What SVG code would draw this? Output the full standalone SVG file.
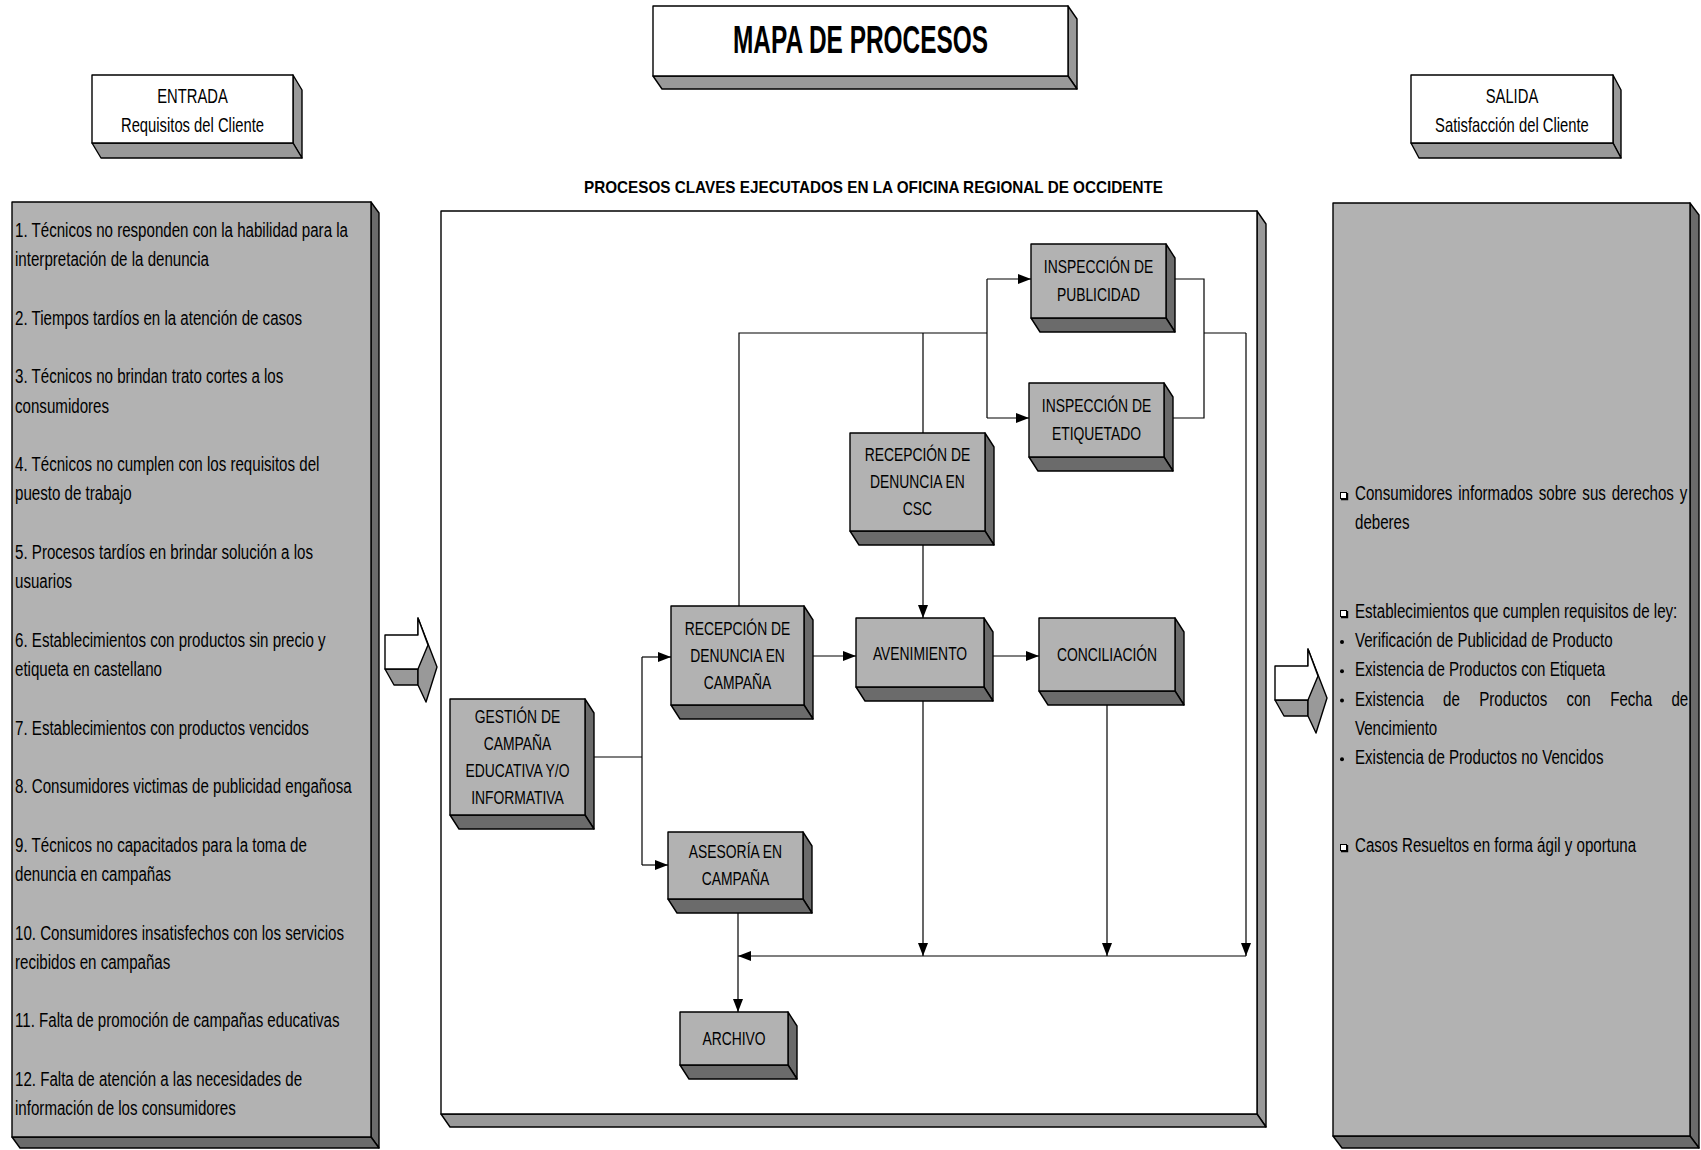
<svg xmlns="http://www.w3.org/2000/svg" width="1701" height="1150" viewBox="0 0 1701 1150">
<defs>
<style>
text { font-family: "Liberation Sans", Arial, sans-serif; fill: #000; }
.ttl { font-size: 38px; font-weight: bold; }
.sub { font-size: 17px; font-weight: bold; }
.hd { font-size: 20px; text-anchor: middle; }
.pt { font-size: 20px; }
.nt { font-size: 19px; text-anchor: middle; }
.face { stroke: #000; stroke-width: 1.4; stroke-linejoin: round; }
.white { fill: #fff; }
.lite { fill: #999; }
.pane { fill: #b2b2b2; }
.dark { fill: #6b6b6b; }
.edge { fill: none; stroke: #000; stroke-width: 1.2; }
.arr { fill: none; stroke: #000; stroke-width: 1.2; marker-end: url(#ah); }
</style>
<marker id="ah" markerUnits="userSpaceOnUse" markerWidth="14" markerHeight="10" refX="13" refY="5" orient="auto">
<path d="M0,0 L13,5 L0,10 z" fill="#000"/>
</marker>
</defs>

<!-- title block -->
<g id="title">
<polygon class="face lite" points="1068,6 1077,19 1077,89 1068,76"/>
<polygon class="face lite" points="653,76 1068,76 1077,89 662,89"/>
<rect class="face white" x="653" y="6" width="415" height="70"/>
<text class="ttl" x="733" y="53" textLength="255" lengthAdjust="spacingAndGlyphs">MAPA DE PROCESOS</text>
</g>

<!-- input header -->
<g id="entrada">
<polygon class="face lite" points="293,75 302,90 302,158 293,143"/>
<polygon class="face lite" points="92,143 293,143 302,158 101,158"/>
<rect class="face white" x="92" y="75" width="201" height="68"/>
<g transform="scale(0.74 1)">
<text class="hd" x="260.1" y="103">ENTRADA</text>
<text class="hd" x="260.1" y="132">Requisitos del Cliente</text>
</g>
</g>

<!-- output header -->
<g id="salida">
<polygon class="face lite" points="1613,75 1621,90 1621,158 1613,143"/>
<polygon class="face lite" points="1411,143 1613,143 1621,158 1419,158"/>
<rect class="face white" x="1411" y="75" width="202" height="68"/>
<g transform="scale(0.74 1)">
<text class="hd" x="2043.2" y="103">SALIDA</text>
<text class="hd" x="2043.2" y="132">Satisfacción del Cliente</text>
</g>
</g>

<!-- left panel: client requirements -->
<g id="requisitos">
<polygon class="face dark" points="371,202 379,213 379,1148 371,1137"/>
<polygon class="face dark" points="12,1137 371,1137 379,1148 20,1148"/>
<rect class="face pane" x="12" y="202" width="359" height="935"/>
<g transform="scale(0.755 1)">
<text class="pt" x="19.9" y="237">1. Técnicos no responden con la habilidad para la</text>
<text class="pt" x="19.9" y="266.3">interpretación de la denuncia</text>
<text class="pt" x="19.9" y="324.8">2. Tiempos tardíos en la atención de casos</text>
<text class="pt" x="19.9" y="383.4">3. Técnicos no brindan trato cortes a los</text>
<text class="pt" x="19.9" y="412.7">consumidores</text>
<text class="pt" x="19.9" y="471.2">4. Técnicos no cumplen con los requisitos del</text>
<text class="pt" x="19.9" y="500.5">puesto de trabajo</text>
<text class="pt" x="19.9" y="559.1">5. Procesos tardíos en brindar solución a los</text>
<text class="pt" x="19.9" y="588.4">usuarios</text>
<text class="pt" x="19.9" y="646.9">6. Establecimientos con productos sin precio y</text>
<text class="pt" x="19.9" y="676.2">etiqueta en castellano</text>
<text class="pt" x="19.9" y="734.7">7. Establecimientos con productos vencidos</text>
<text class="pt" x="19.9" y="793.2">8. Consumidores victimas de publicidad engañosa</text>
<text class="pt" x="19.9" y="851.8">9. Técnicos no capacitados para la toma de</text>
<text class="pt" x="19.9" y="881.1">denuncia en campañas</text>
<text class="pt" x="19.9" y="939.6">10. Consumidores insatisfechos con los servicios</text>
<text class="pt" x="19.9" y="968.9">recibidos en campañas</text>
<text class="pt" x="19.9" y="1027.4">11. Falta de promoción de campañas educativas</text>
<text class="pt" x="19.9" y="1086">12. Falta de atención a las necesidades de</text>
<text class="pt" x="19.9" y="1115.3">información de los consumidores</text>
</g>
</g>

<!-- block arrow into the process area -->
<g id="flecha-entrada">
<polygon class="face lite" points="385,669 418,669 418,685 394,685"/>
<polygon class="face lite" points="418,618 437,667 426,702 418,685"/>
<polygon class="face white" points="385,635 418,635 418,618 428,645 418,669 385,669"/>
</g>

<!-- central process frame -->
<g id="procesos">
<polygon class="face lite" points="1257,211 1266,224 1266,1127 1257,1114"/>
<polygon class="face lite" points="441,1114 1257,1114 1266,1127 450,1127"/>
<rect class="face white" x="441" y="211" width="816" height="903"/>
<text class="sub" x="584" y="193" textLength="579" lengthAdjust="spacingAndGlyphs">PROCESOS CLAVES EJECUTADOS EN LA OFICINA REGIONAL DE OCCIDENTE</text>
</g>

<!-- connectors -->
<g id="conectores">
<path class="edge" d="M594,757 H642 M642,657 V865"/>
<path class="arr" d="M642,657 H671"/>
<path class="arr" d="M642,865 H668"/>
<path class="arr" d="M813,656 H856"/>
<path class="arr" d="M993,656 H1039"/>
<path class="edge" d="M739,606 V333 H987 M987,279 V418 M923,333 V433"/>
<path class="arr" d="M987,279 H1031"/>
<path class="arr" d="M987,418 H1029"/>
<path class="edge" d="M1175,279 H1204 V418 H1173 M1204,333 H1246"/>
<path class="arr" d="M1246,333 V956"/>
<path class="arr" d="M923,545 V618"/>
<path class="arr" d="M923,701 V956"/>
<path class="arr" d="M1107,705 V956"/>
<path class="arr" d="M1246,956 H738"/>
<path class="arr" d="M738,913 V1012"/>
</g>

<g id="inspeccion-publicidad">
<polygon class="face dark" points="1166,244 1175,258 1175,332 1166,318"/>
<polygon class="face dark" points="1031,318 1166,318 1175,332 1040,332"/>
<rect class="face pane" x="1031" y="244" width="135" height="74"/>
<g transform="scale(0.73 1)">
<text class="nt" x="1504.8" y="273.5">INSPECCIÓN DE</text>
<text class="nt" x="1504.8" y="301.5">PUBLICIDAD</text>
</g>
</g>

<g id="inspeccion-etiquetado">
<polygon class="face dark" points="1164,383 1173,397 1173,471 1164,457"/>
<polygon class="face dark" points="1029,457 1164,457 1173,471 1038,471"/>
<rect class="face pane" x="1029" y="383" width="135" height="74"/>
<g transform="scale(0.73 1)">
<text class="nt" x="1502.1" y="412.5">INSPECCIÓN DE</text>
<text class="nt" x="1502.1" y="440.5">ETIQUETADO</text>
</g>
</g>

<g id="recepcion-csc">
<polygon class="face dark" points="985,433 994,447 994,545 985,531"/>
<polygon class="face dark" points="850,531 985,531 994,545 859,545"/>
<rect class="face pane" x="850" y="433" width="135" height="98"/>
<g transform="scale(0.73 1)">
<text class="nt" x="1256.8" y="461.5">RECEPCIÓN DE</text>
<text class="nt" x="1256.8" y="488.5">DENUNCIA EN</text>
<text class="nt" x="1256.8" y="515.5">CSC</text>
</g>
</g>

<g id="recepcion-campana">
<polygon class="face dark" points="804,606 813,620 813,719 804,705"/>
<polygon class="face dark" points="671,705 804,705 813,719 680,719"/>
<rect class="face pane" x="671" y="606" width="133" height="99"/>
<g transform="scale(0.73 1)">
<text class="nt" x="1010.3" y="635">RECEPCIÓN DE</text>
<text class="nt" x="1010.3" y="662">DENUNCIA EN</text>
<text class="nt" x="1010.3" y="689">CAMPAÑA</text>
</g>
</g>

<g id="gestion-campana">
<polygon class="face dark" points="585,699 594,713 594,829 585,815"/>
<polygon class="face dark" points="450,815 585,815 594,829 459,829"/>
<rect class="face pane" x="450" y="699" width="135" height="116"/>
<g transform="scale(0.73 1)">
<text class="nt" x="708.9" y="723">GESTIÓN DE</text>
<text class="nt" x="708.9" y="750">CAMPAÑA</text>
<text class="nt" x="708.9" y="777">EDUCATIVA Y/O</text>
<text class="nt" x="708.9" y="804">INFORMATIVA</text>
</g>
</g>

<g id="asesoria-campana">
<polygon class="face dark" points="803,832 812,846 812,913 803,899"/>
<polygon class="face dark" points="668,899 803,899 812,913 677,913"/>
<rect class="face pane" x="668" y="832" width="135" height="67"/>
<g transform="scale(0.73 1)">
<text class="nt" x="1007.5" y="858.5">ASESORÍA EN</text>
<text class="nt" x="1007.5" y="885.5">CAMPAÑA</text>
</g>
</g>

<g id="avenimiento">
<polygon class="face dark" points="984,618 993,632 993,701 984,687"/>
<polygon class="face dark" points="856,687 984,687 993,701 865,701"/>
<rect class="face pane" x="856" y="618" width="128" height="69"/>
<g transform="scale(0.73 1)">
<text class="nt" x="1260.3" y="660">AVENIMIENTO</text>
</g>
</g>

<g id="conciliacion">
<polygon class="face dark" points="1175,618 1184,632 1184,705 1175,691"/>
<polygon class="face dark" points="1039,691 1175,691 1184,705 1048,705"/>
<rect class="face pane" x="1039" y="618" width="136" height="73"/>
<g transform="scale(0.73 1)">
<text class="nt" x="1516.4" y="661">CONCILIACIÓN</text>
</g>
</g>

<g id="archivo">
<polygon class="face dark" points="788,1012 797,1026 797,1079 788,1065"/>
<polygon class="face dark" points="680,1065 788,1065 797,1079 689,1079"/>
<rect class="face pane" x="680" y="1012" width="108" height="53"/>
<g transform="scale(0.73 1)">
<text class="nt" x="1005.5" y="1045">ARCHIVO</text>
</g>
</g>

<!-- block arrow out of the process area -->
<g id="flecha-salida">
<polygon class="face lite" points="1275,700 1308,700 1308,716 1284,716"/>
<polygon class="face lite" points="1308,649 1327,698 1316,733 1308,716"/>
<polygon class="face white" points="1275,666 1308,666 1308,649 1318,676 1308,700 1275,700"/>
</g>

<!-- right panel: client satisfaction -->
<g id="satisfaccion">
<polygon class="face dark" points="1690,203 1699,215 1699,1148 1690,1136"/>
<polygon class="face dark" points="1333,1136 1690,1136 1699,1148 1342,1148"/>
<rect class="face pane" x="1333" y="203" width="357" height="933"/>
<g fill="#fff" stroke="#000" stroke-width="1">
<rect x="1340.5" y="492.5" width="6" height="6"/>
<rect x="1340.5" y="610.5" width="6" height="6"/>
<rect x="1340.5" y="844.5" width="6" height="6"/>
</g>
<g fill="none" stroke="#000" stroke-width="1.4">
<path d="M1341,499.5 H1347.5 V493"/>
<path d="M1341,617.5 H1347.5 V611"/>
<path d="M1341,851.5 H1347.5 V845"/>
</g>
<g fill="#000">
<circle cx="1342" cy="642" r="2"/>
<circle cx="1342" cy="671.3" r="2"/>
<circle cx="1342" cy="700.6" r="2"/>
<circle cx="1342" cy="759.2" r="2"/>
</g>
<g transform="scale(0.755 1)">
<text class="pt" x="1794.7" y="500" word-spacing="2.2">Consumidores informados sobre sus derechos y</text>
<text class="pt" x="1794.7" y="529.3">deberes</text>
<text class="pt" x="1794.7" y="617.9">Establecimientos que cumplen requisitos de ley:</text>
<text class="pt" x="1794.7" y="647.2">Verificación de Publicidad de Producto</text>
<text class="pt" x="1794.7" y="676.5">Existencia de Productos con Etiqueta</text>
<text class="pt" y="705.8"><tspan x="1794.7">Existencia</tspan><tspan x="1911.3">de</tspan><tspan x="1959.3">Productos</tspan><tspan x="2074.7">con</tspan><tspan x="2132.7">Fecha</tspan><tspan x="2213.8">de</tspan></text>
<text class="pt" x="1794.7" y="735.1">Vencimiento</text>
<text class="pt" x="1794.7" y="764.4">Existencia de Productos no Vencidos</text>
<text class="pt" x="1794.7" y="852.3">Casos Resueltos en forma ágil y oportuna</text>
</g>
</g>
</svg>
